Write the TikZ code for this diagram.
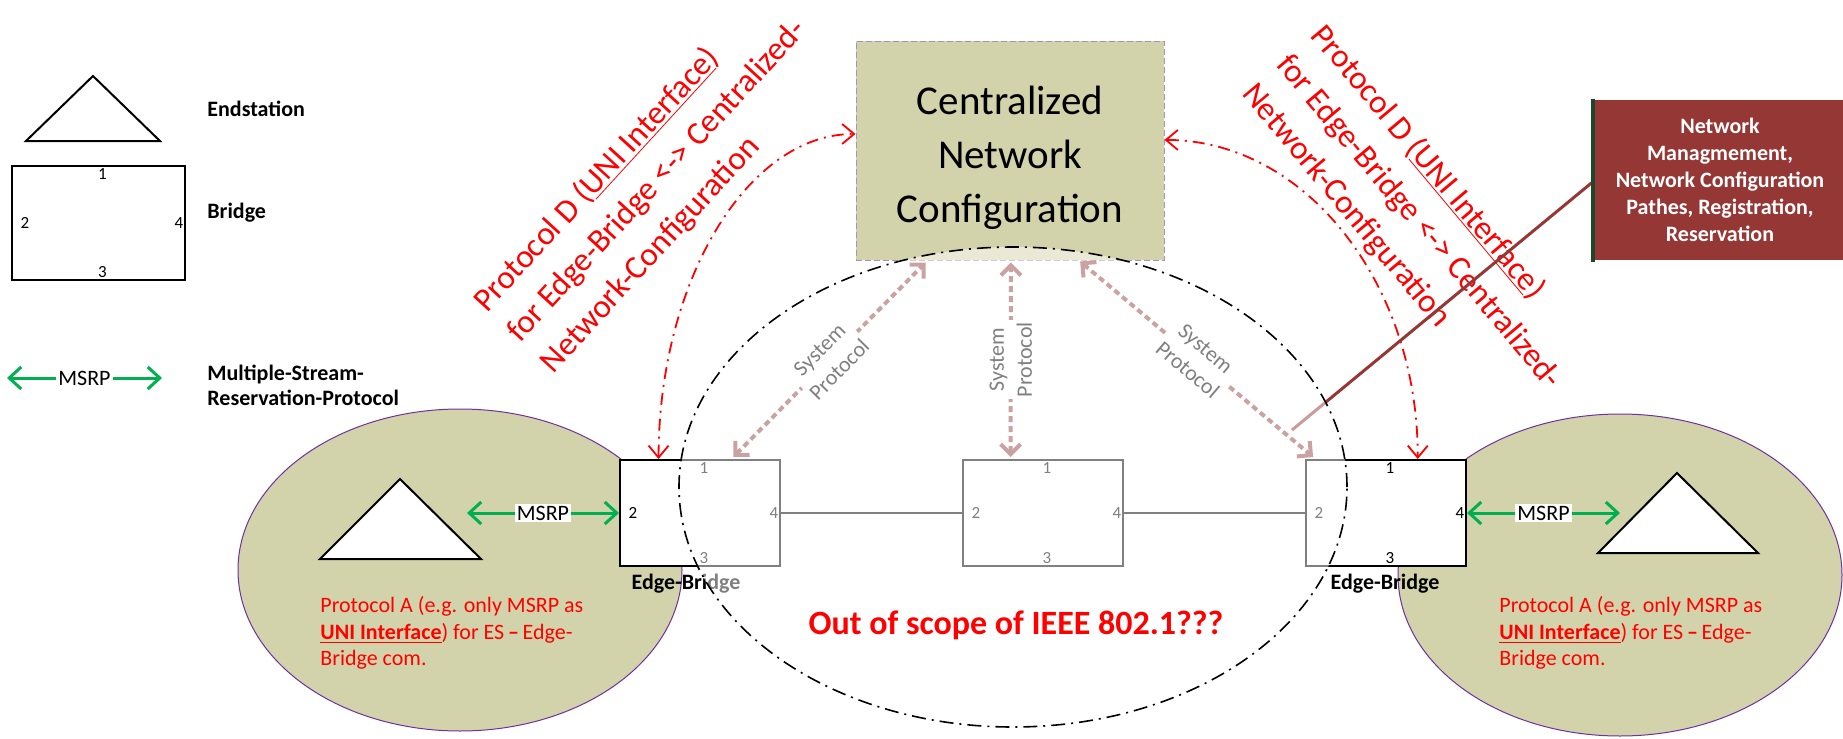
\documentclass[tikz,border=0pt]{standalone}
\usepackage{fontspec}
\setmainfont{Carlito}
\usetikzlibrary{arrows.meta,calc}

\definecolor{envfill}{RGB}{211,211,171}
\definecolor{rimpurple}{RGB}{112,48,160}
\definecolor{msrpgreen}{RGB}{0,176,80}
\definecolor{sysrose}{RGB}{150,70,70}
\definecolor{mgmtred}{RGB}{149,55,53}
\definecolor{mgmtedge}{RGB}{30,70,40}
\definecolor{cncborder}{RGB}{165,145,195}

% port numbers 1..4 around a bridge node
\newcommand\bridgeports[1]{%
  \node[portnum] (#1-1) at ($(#1.north)+(4,9)$) {1};
  \node[portnum] (#1-2) at ($(#1.west)+(14,0)$) {2};
  \node[portnum] (#1-4) at ($(#1.east)+(-7,0)$) {4};
  \node[portnum] (#1-3) at ($(#1.south)+(4,-9)$) {3};
}

\begin{document}
\begin{tikzpicture}[x=0.5pt,y=-0.5pt,
  env/.style={draw=rimpurple,line width=0.5pt,fill=envfill},
  endst/.style={draw=black,line width=1pt,fill=white,line join=miter},
  bridgebox/.style={draw=black,line width=1pt,fill=white,minimum width=80pt,minimum height=53pt,inner sep=0pt},
  portnum/.style={inner sep=0pt,font=\fontsize{8.5}{10}\selectfont},
  legendtxt/.style={anchor=west,align=left,inner sep=0pt,font=\bfseries\fontsize{11}{12.5}\selectfont},
  ebtxt/.style={inner sep=0pt,font=\bfseries\fontsize{11}{13}\selectfont},
  msrp/.style={draw=msrpgreen,line width=1.5pt,{Straight Barb[length=6pt,width=11pt]}-{Straight Barb[length=6pt,width=11pt]}},
  msrplbl/.style={fill=white,inner sep=1pt,font=\fontsize{11}{12}\selectfont},
  sysarrow/.style={draw=sysrose,line width=2pt,dash pattern=on 3pt off 2pt,{Straight Barb[length=5pt,width=10pt]}-{Straight Barb[length=5pt,width=10pt]}},
  syslbl/.style={fill=white,inner sep=1pt,align=center,font=\fontsize{11}{14}\selectfont},
  bridgelink/.style={draw=black,line width=1pt},
  protod/.style={draw=red,line width=0.9pt,dash pattern=on 6pt off 3pt on 1pt off 3pt,{Straight Barb[length=6pt,width=10pt]}-{Straight Barb[length=6pt,width=10pt]}},
  protodtxt/.style={text=red,align=left,inner sep=0pt,font=\fontsize{16.5}{22.5}\selectfont},
  protoatxt/.style={text=red,anchor=west,align=left,inner sep=0pt,font=\fontsize{11}{13.25}\selectfont},
  scopetxt/.style={text=red,inner sep=0pt,font=\bfseries\fontsize{17}{20}\selectfont},
  mgmtbox/.style={fill=mgmtred,text=white,align=center,inner sep=0pt,minimum width=127pt,minimum height=80pt,font=\bfseries\fontsize{11}{13.5}\selectfont},
  overlay/.style={draw=black,line width=0.8pt,dash pattern=on 7pt off 3pt on 1pt off 3pt,fill=white,fill opacity=0.5}
]
\useasboundingbox (0,0) rectangle (1843,739);

% end-station domains
\draw[env] (460,570) ellipse [x radius=111pt, y radius=80.5pt];
\draw[env] (1620,575) ellipse [x radius=111pt, y radius=80.5pt];

% legend
\draw[endst] (26,141) -- (93,76) -- (160,141) -- cycle;
\node[legendtxt] (lgES) at (207,109) {Endstation};
\node[bridgebox,minimum width=86.5pt,minimum height=57pt] (lgBr) at (98.5,223) {};
\bridgeports{lgBr}
\node[legendtxt] (lgBrTxt) at (207,213) {Bridge};
\coordinate (lgM1) at (7,378);
\coordinate (lgM2) at (162,378);
\draw[msrp] (lgM1) -- node[msrplbl] (lgMTxt) {MSRP} (lgM2);
\node[legendtxt] (lgMDesc) at (207,385.5) {Multiple-Stream-\\Reservation-Protocol};

% centralized configuration entity
\node[draw=cncborder,line width=0.5pt,dash pattern=on 3pt off 1.5pt,fill=envfill,
      minimum width=154pt,minimum height=109.5pt,inner sep=0pt] (cnc) at (1010,150.5) {};
\node[align=center,inner sep=0pt,font=\fontsize{20.5}{27}\selectfont] (cncTxt)
      at ($(cnc.center)+(0,7)$) {Centralized\\Network\\Configuration};

% management box
\node[mgmtbox] (nm) at (1720,180)
  {Network\\Managmement,\\Network Configuration\\Pathes, Registration,\\Reservation};

% bridges
\node[bridgebox] (ebL) at (700,513) {};
\node[bridgebox] (brM) at (1043,513) {};
\node[bridgebox] (ebR) at (1386,513) {};
\bridgeports{ebL}
\bridgeports{brM}
\bridgeports{ebR}
\draw[bridgelink] (ebL.east) -- (brM.west);
\draw[bridgelink] (brM.east) -- (ebR.west);
\node[ebtxt] (ebLTxt) at (686,584) {Edge-Bridge};
\node[ebtxt] (ebRTxt) at (1385,584) {Edge-Bridge};

% end stations and MSRP links
\draw[endst] (320,559) -- (400,479) -- (481,559) -- cycle;
\draw[endst] (1598,553) -- (1677,473) -- (1758,553) -- cycle;
\coordinate (esL) at (467,513);
\coordinate (esR) at (1620,513);
\draw[msrp] (esL) -- node[msrplbl] (msL) {MSRP} (ebL.west);
\draw[msrp] (ebR.east) -- node[msrplbl] (msR) {MSRP} (esR);

% system protocol links
\coordinate (sp1a) at ($(cnc.south west)!0.227!(cnc.south east)+(0,2)$);
\coordinate (sp2a) at ($(cnc.south west)!0.503!(cnc.south east)+(0,2)$);
\coordinate (sp3a) at ($(cnc.south west)!0.727!(cnc.south east)+(0,1)$);
\coordinate (sp1b) at ($(ebL.north west)!0.706!(ebL.north east)+(0,-2)$);
\coordinate (sp2b) at ($(brM.north west)!0.3!(brM.north east)+(0,-2)$);
\coordinate (sp3b) at ($(ebR.north west)!0.05!(ebR.north east)+(0,-2)$);
\draw[sysarrow] (sp1b) -- node[syslbl,rotate=45.4] (sp1t) {System\\Protocol} (sp1a);
\draw[sysarrow] (sp2b) -- node[syslbl,rotate=90] (sp2t) {System\\Protocol} (sp2a);
\draw[sysarrow] (sp3a) -- node[syslbl,rotate=-40.2] (sp3t) {System\\Protocol} (sp3b);

% protocol D links
\coordinate (pdL1) at ($(ebL.north west)!0.244!(ebL.north east)$);
\coordinate (pdL2) at ($(cnc.north west)!0.425!(cnc.south west)$);
\coordinate (pdR1) at ($(cnc.north east)!0.452!(cnc.south east)$);
\coordinate (pdR2) at ($(ebR.north west)!0.696!(ebR.north east)$);
\draw[protod] (pdL1) .. controls (659,280) and (748,134) .. (pdL2);
\draw[protod] (pdR1) .. controls (1305,140) and (1418,283) .. (pdR2);

\node[protodtxt,rotate=47.5] (pdtL) at (657,181)
  {Protocol D (\underline{UNI Interface})\\for Edge-Bridge <-> Centralized-\\Network-Configuration};
\node[protodtxt,rotate=-50] (pdtR) at (1419,222)
  {Protocol D (\underline{UNI Interface})\\for Edge-Bridge <-> Centralized-\\Network-Configuration};

% management link
\coordinate (nmEnd) at (1292,430);
\draw[mgmtred,line width=1.5pt] ($(nm.west)+(0,2)$) -- (nmEnd);
\draw[mgmtedge,line width=2pt] ($(nm.north west)+(0,-1)$) -- ($(nm.south west)+(0,2)$);

% scope boundary
\draw[overlay] (1013,487) ellipse [x radius=167pt, y radius=120pt];

\node[scopetxt] (scope) at (1016,625) {Out of scope of IEEE 802.1???};

\node[protoatxt] (paL) at (320,633)
  {Protocol A (e.g. only MSRP as\\\textbf{\underline{UNI Interface}}) for ES\,\textbf{--}\,Edge-\\Bridge com.};
\node[protoatxt] (paR) at (1499,633)
  {Protocol A (e.g. only MSRP as\\\textbf{\underline{UNI Interface}}) for ES\,\textbf{--}\,Edge-\\Bridge com.};
\end{tikzpicture}
\end{document}
